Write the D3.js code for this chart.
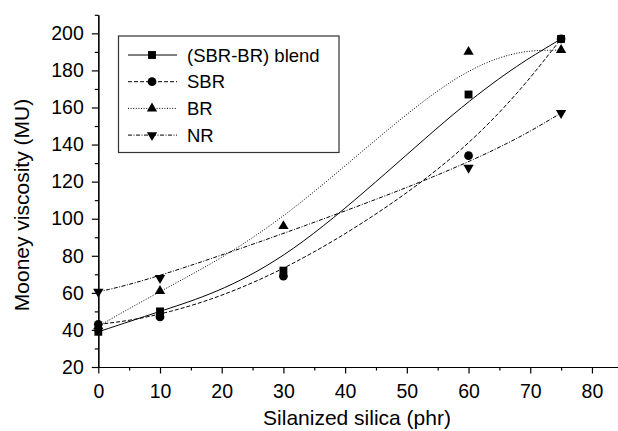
<!DOCTYPE html>
<meta charset="utf-8">
<style>
body { margin: 0; background: #fff; }
svg { display: block; font-family: "Liberation Sans", Arial, sans-serif; }
.axis path, .axis line { stroke: #000; stroke-width: 1.2px; }
.axis text { font-size: 19.5px; fill: #000; }
.fit { fill: none; stroke: #000; stroke-width: 1px; }
</style>
<svg width="618" height="431" id="chart"></svg>
<script src="https://d3js.org/d3.v7.min.js"></script>
<script>
// silica loading (phr)
var silica = [0, 10, 30, 60, 75];
var silicaNR = [0, 10, 60, 75];

// Mooney viscosity (MU)
var blend = [39, 50, 72, 167, 197];
var sbr = [43, 47, 69, 134, 197];
var br = [42, 61, 96, 190, 191];
var nr = [60.6, 68, 127.5, 157];

var seriesNames = ["(SBR-BR) blend", "SBR", "BR", "NR"];
var xTicks = [0, 10, 20, 30, 40, 50, 60, 70, 80];
var yTicks = [20, 40, 60, 80, 100, 120, 140, 160, 180, 200];

var svg = d3.select("svg#chart");

var x = d3.scaleLinear().domain([0, 85]).range([98.3, 622.8]);
var y = d3.scaleLinear().domain([20, 210]).range([367, 14.8]);

// minor ticks first, then the labelled ones
svg.append("g")
    .attr("class", "axis")
    .attr("transform", "translate(0,367)")
    .call(d3.axisBottom(x).tickValues(d3.range(5, 85, 10)).tickSize(3.5).tickSizeOuter(0).tickFormat(""));
svg.append("g")
    .attr("class", "axis")
    .attr("transform", "translate(98.3,0)")
    .call(d3.axisLeft(y).tickValues(d3.range(30, 220, 20)).tickSize(3.5).tickSizeOuter(0).tickFormat(""));

svg.append("g")
    .attr("class", "axis")
    .attr("transform", "translate(0,367)")
    .call(d3.axisBottom(x).tickValues(xTicks).tickSize(6.5).tickPadding(11).tickSizeOuter(0));
svg.append("g")
    .attr("class", "axis")
    .attr("transform", "translate(98.3,0)")
    .call(d3.axisLeft(y).tickValues(yTicks).tickSize(6.5).tickPadding(8).tickSizeOuter(0));

svg.append("text")
    .attr("x", 357)
    .attr("y", 425)
    .attr("text-anchor", "middle")
    .style("font-size", "21px")
    .text("Silanized silica (phr)");

svg.append("text")
    .attr("transform", "translate(29,205) rotate(-90)")
    .attr("text-anchor", "middle")
    .style("font-size", "21px")
    .text("Mooney viscosity (MU)");

var series = [
  {name: seriesNames[0], xs: silica, ys: blend, dash: null, sym: d3.symbolSquare, size: 62, rot: 0},
  {name: seriesNames[1], xs: silica, ys: sbr, dash: "4,2", sym: d3.symbolCircle, size: 60, rot: 0},
  {name: seriesNames[2], xs: silica, ys: br, dash: "1,1.6", sym: d3.symbolTriangle, size: 46, rot: 0},
  {name: seriesNames[3], xs: silicaNR, ys: nr, dash: "4,1.5,1,1.5", sym: d3.symbolTriangle, size: 46, rot: 180}
];

var line = d3.line()
    .x(function(d) { return x(d[0]); })
    .y(function(d) { return y(d[1]); })
    .curve(d3.curveBasis);

series.forEach(function(s) {
  var pts = s.xs.map(function(v, i) { return [v, s.ys[i]]; });
  svg.append("path")
      .attr("class", "fit")
      .attr("d", line(pts))
      .attr("stroke-dasharray", s.dash);
  svg.append("g").selectAll("path")
      .data(pts)
      .enter().append("path")
      .attr("d", d3.symbol().type(s.sym).size(s.size))
      .attr("transform", function(d) {
        return "translate(" + x(d[0]) + "," + y(d[1]) + ") rotate(" + s.rot + ")";
      })
      .attr("fill", "#000");
});

// legend
var legend = svg.append("g");
legend.append("rect")
    .attr("x", 118.5).attr("y", 36)
    .attr("width", 220.5).attr("height", 116.5)
    .attr("fill", "#fff")
    .attr("stroke", "#333")
    .attr("stroke-width", 1.2);

series.forEach(function(s, i) {
  var ly = 55 + i * 26.7;
  legend.append("line")
      .attr("x1", 128).attr("x2", 177)
      .attr("y1", ly).attr("y2", ly)
      .attr("stroke", "#000")
      .attr("stroke-width", 1)
      .attr("stroke-dasharray", s.dash);
  legend.append("path")
      .attr("d", d3.symbol().type(s.sym).size(s.size))
      .attr("transform", "translate(152," + ly + ") rotate(" + s.rot + ")")
      .attr("fill", "#000");
  legend.append("text")
      .attr("x", 187)
      .attr("y", ly)
      .attr("dy", "0.36em")
      .style("font-size", "18.5px")
      .text(s.name);
});
</script>
